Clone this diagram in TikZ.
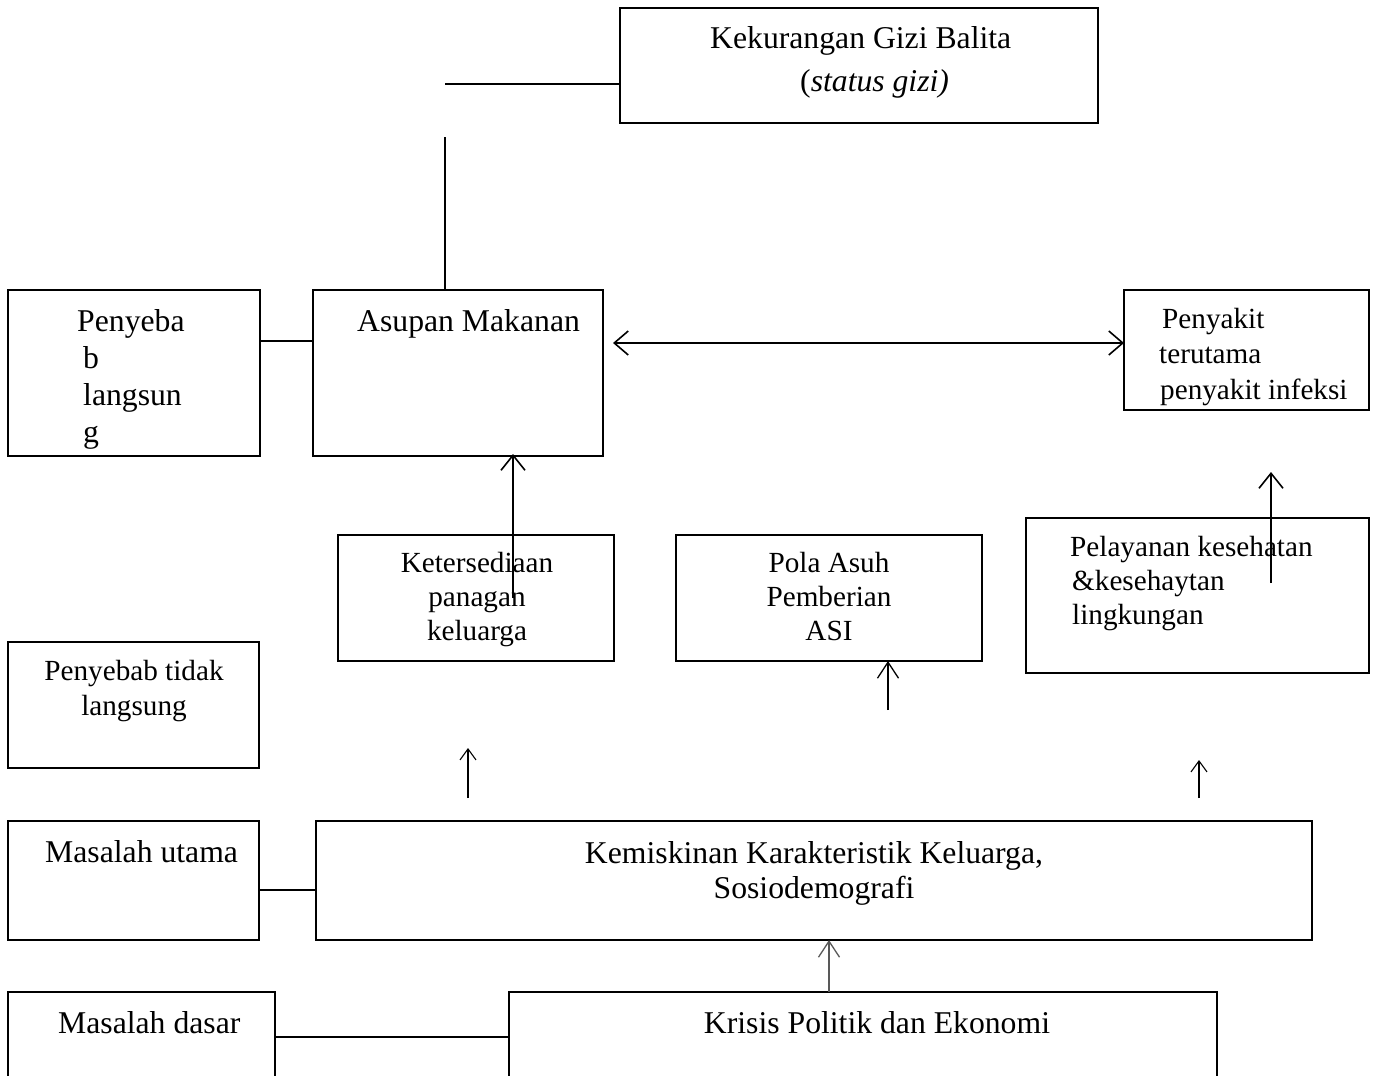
\documentclass[tikz,border=0pt]{standalone}
\usepackage{fontspec}
\setmainfont{Liberation Serif}
\usetikzlibrary{arrows.meta}
\newcommand{\mainsz}{\fontsize{31.7}{37}\selectfont}
\newcommand{\smallsz}{\fontsize{29.2}{34}\selectfont}
\tikzset{
  bx/.style={draw, line width=1.8pt, inner sep=0pt, outer sep=0pt, anchor=north west},
  tbx/.style={draw, line width=1.2pt, inner sep=0pt, outer sep=0pt, anchor=north west},
  mt/.style={inner sep=0pt, font=\mainsz},
  st/.style={inner sep=0pt, font=\smallsz},
  conn/.style={line width=1.8pt},
  bigarr/.style={line width=1.6pt, -{Straight Barb[length=15pt,width=24pt,line width=1.6pt]}},
  medarr/.style={line width=1.3pt, -{Straight Barb[length=16pt,width=21pt,line width=1.3pt]}},
  dblarr/.style={line width=1.6pt, {Straight Barb[length=14pt,width=24pt,line width=1.6pt]}-{Straight Barb[length=14pt,width=24pt,line width=1.6pt]}},
  smarr/.style={line width=1.1pt, -{Straight Barb[length=11pt,width=16pt,line width=1.1pt]}}
}
\begin{document}
\begin{tikzpicture}[x=1pt,y=-1pt]
\useasboundingbox (0,0) rectangle (1377,1076);
% boxes
\node[tbx, minimum width=478pt, minimum height=115pt] (kek) at (620,8) {};
\node[bx, minimum width=252pt, minimum height=166pt] (pl) at (8,290) {};
\node[bx, minimum width=290pt, minimum height=166pt] (asup) at (313,290) {};
\node[tbx, minimum width=245pt, minimum height=120pt] (pen) at (1124,290) {};
\node[tbx, minimum width=276pt, minimum height=126pt] (ket) at (338,535) {};
\node[tbx, minimum width=306pt, minimum height=126pt] (pola) at (676,535) {};
\node[tbx, minimum width=343pt, minimum height=155pt] (pel) at (1026,518) {};
\node[tbx, minimum width=251pt, minimum height=126pt] (ptl) at (8,642) {};
\node[bx, minimum width=251pt, minimum height=119pt] (mu) at (8,821) {};
\node[bx, minimum width=996pt, minimum height=119pt] (kem) at (316,821) {};
\node[bx, minimum width=267pt, minimum height=100pt] (md) at (8,992) {};
\node[bx, minimum width=708pt, minimum height=100pt] (kri) at (509,992) {};
% texts
\node[mt, anchor=base west] (t1) at (710,48) {Kekurangan Gizi Balita};
\node[mt, anchor=base west] (t2) at (800,91) {(\textit{status gizi)}};
\node[mt, anchor=base west] (t3) at (357,331) {Asupan Makanan};
\node[mt, anchor=base west] (t4) at (77,331) {Penyeba};
\node[mt, anchor=base west] (t5) at (83,368) {b};
\node[mt, anchor=base west] (t6) at (83,405) {langsun};
\node[mt, anchor=base west] (t7) at (83,442) {g};
\node[st, anchor=base west] (t8) at (1162,328) {Penyakit};
\node[st, anchor=base west] (t9) at (1159,363) {terutama};
\node[st, anchor=base west] (t10) at (1160,399) {penyakit infeksi};
\node[st, anchor=base] (t11) at (477,572) {Ketersediaan};
\node[st, anchor=base] (t12) at (477,606) {panagan};
\node[st, anchor=base] (t13) at (477,640) {keluarga};
\node[st, anchor=base] (t14) at (829,572) {Pola Asuh};
\node[st, anchor=base] (t15) at (829,606) {Pemberian};
\node[st, anchor=base] (t16) at (829,640) {ASI};
\node[st, anchor=base west] (t17) at (1070,556) {Pelayanan kesehatan};
\node[st, anchor=base west] (t18) at (1072,590) {\&kesehaytan};
\node[st, anchor=base west] (t19) at (1072,624) {lingkungan};
\node[st, anchor=base] (t20) at (134,680) {Penyebab tidak};
\node[st, anchor=base] (t21) at (134,715) {langsung};
\node[mt, anchor=base west] (t22) at (45,862) {Masalah utama};
\node[mt, anchor=base] (t23) at (814,863) {Kemiskinan Karakteristik Keluarga,};
\node[mt, anchor=base] (t24) at (814,898) {Sosiodemografi};
\node[mt, anchor=base west] (t25) at (58,1033) {Masalah dasar};
\node[mt, anchor=base] (t26) at (877,1033) {Krisis Politik dan Ekonomi};
% free ends
\coordinate (c1) at (445,84);
\coordinate (c2) at (445,137);
\coordinate (c3) at (260,341);
\coordinate (c4) at (613,343);
\coordinate (c5) at (513,598);
\coordinate (c6) at (888,710);
\coordinate (c7) at (1271,583);
\coordinate (c8) at (1271,472);
\coordinate (c9) at (468,798);
\coordinate (c10) at (468,748);
\coordinate (c11) at (1199,798);
\coordinate (c12) at (1199,760);
\coordinate (c13) at (259,890);
\coordinate (c14) at (275,1037);
\coordinate (c15) at (829,992);
% connectors
\draw[conn] (c1) -- (kek.west |- c1);
\draw[conn] (c2) -- (asup.north -| c2);
\draw[conn] (c3) -- (asup.west |- c3);
\draw[dblarr] (c4) -- (pen.west |- c4);
\draw[bigarr] (c5) -- ([yshift=2pt]asup.south -| c5);
\draw[medarr] (c6) -- (pola.south -| c6);
\draw[bigarr] (c7) -- (c8);
\draw[smarr] (c9) -- (c10);
\draw[smarr] (c11) -- (c12);
\draw[conn] (c13) -- (kem.west |- c13);
\draw[conn] (c14) -- (kri.west |- c14);
\draw[medarr, draw=black!65] (c15) -- (kem.south -| c15);
\end{tikzpicture}
\end{document}
